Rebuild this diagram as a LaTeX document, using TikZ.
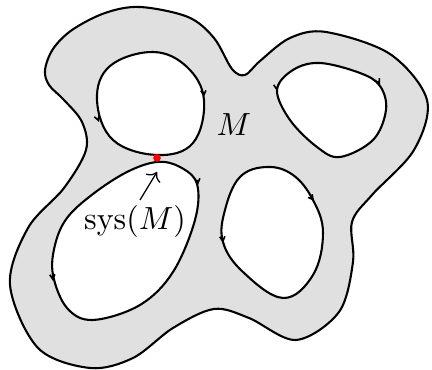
\documentclass[tikz,border=0pt]{standalone}
\usetikzlibrary{arrows.meta}
\tikzset{
  bd/.style={line width=0.65pt, black},
  surf/.style={bd, fill=black!12},
  hole/.style={bd, fill=white},
  tick/.style={line width=0.5pt, -{Straight Barb[length=1.5pt,width=1.6pt]}},
  lbl/.style={inner sep=1pt, font=\normalsize}
}
\begin{document}
\begin{tikzpicture}[x=0.3125pt,y=-0.3125pt]
\useasboundingbox (0,0) rectangle (432,370);
% outer surface
\draw[surf] plot[smooth cycle, tension=0.55] coordinates {
 (45,70) (53,49) (72,30) (105,13) (140,7) (188,17) (214,38) (232,69) (245,75) (260,61)
 (290,38) (326,32) (390,54) (427,100) (414,150) (372,195) (352,222)
 (353,262) (339,312) (296,340) (249,318) (214,309) (173,328) (133,358)
 (90,368) (38,348) (10,285) (28,228) (64,188) (86,150) (82,122) (64,100) (49,85)};
% holes
\draw[hole] plot[smooth cycle, tension=0.65] coordinates {
 (153,52) (187,67) (204,100) (193,143) (157,155) (113,140) (97,100) (110,66)};
\draw[hole] plot[smooth cycle, tension=0.6] coordinates {
 (157,162) (180,167) (197,184) (195,220) (173,272) (140,305) (93,320) (67,308)
 (53,275) (55,245) (67,218) (93,194) (127,172)};
\draw[hole] plot[smooth cycle, tension=0.65] coordinates {
 (267,167) (293,175) (313,200) (323,233) (313,275) (283,298) (243,272) (223,242)
 (225,210) (240,177)};
\draw[hole] plot[smooth cycle, tension=0.6] coordinates {
 (277,90) (293,70) (320,63) (360,73) (380,86) (386,110) (373,140) (340,157)
 (317,147) (290,120)};
% orientation marks
\draw[tick] (203.5,92) -- (203.7,97);
\draw[tick] (97.5,118) -- (99,122);
\draw[tick] (197.5,180) -- (198,185);
\draw[tick] (52.5,276) -- (53,281);
\draw[tick] (311,197) -- (314,201);
\draw[tick] (222.5,238) -- (223,243);
\draw[tick] (378,81) -- (380,85);
\draw[tick] (276.5,87) -- (277,91);
% systole point
\node[circle, fill=red, inner sep=0pt, minimum size=2.4pt] (p) at (157,158) {};
% labels
\node[lbl] (m) at (234,125) {$M$};
\node[lbl] (s) at (135,222) {$\mathrm{sys}(M)$};
\coordinate (a0) at (140,200);
\coordinate (a1) at (157,172);
\draw[line width=0.4pt, -{To[length=2.5pt]}] (a0) -- (a1);
\end{tikzpicture}
\end{document}
